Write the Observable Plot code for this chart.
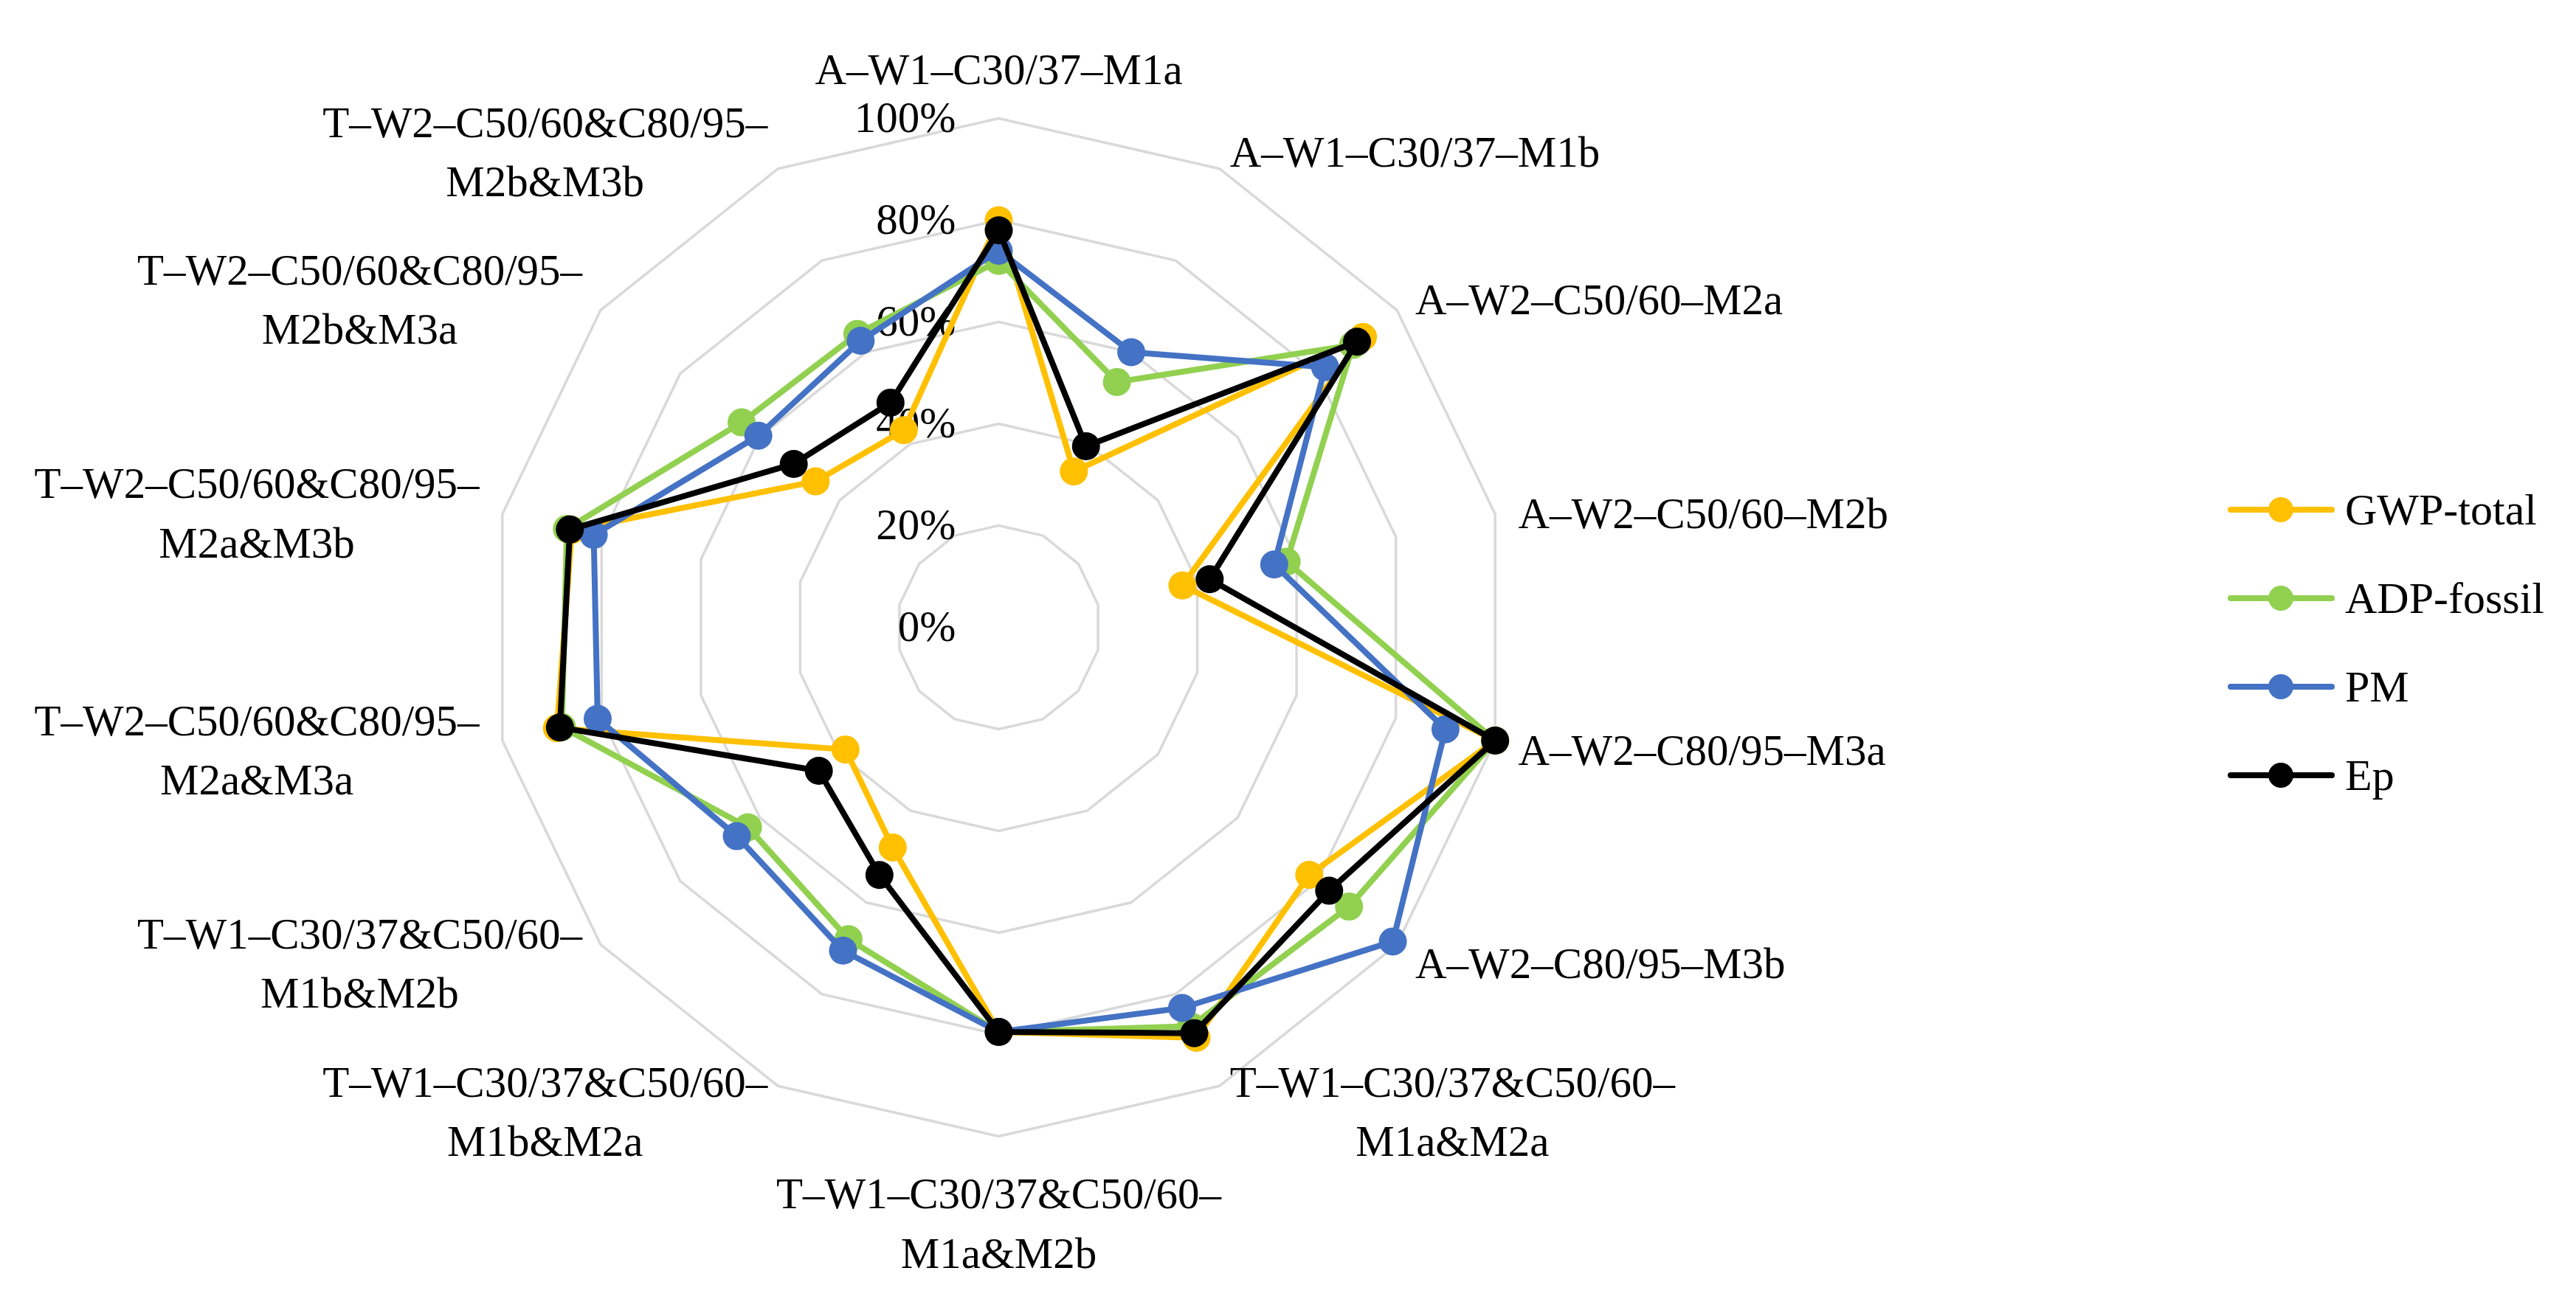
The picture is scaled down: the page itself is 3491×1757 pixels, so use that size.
<!DOCTYPE html>
<html><head><meta charset="utf-8">
<script src="https://cdn.jsdelivr.net/npm/d3@7"></script>
<script src="https://cdn.jsdelivr.net/npm/@observablehq/plot@0.6"></script>
<style>
html,body{margin:0;padding:0;background:#fff;}
#wrap{position:relative;width:3491px;height:1757px;overflow:hidden;background:#fff;}
#legend{position:absolute;left:3019px;top:631px;font-family:'Liberation Serif',serif;font-size:60px;color:#000;}
.row{display:flex;align-items:center;height:120px;white-space:nowrap;}
.row svg{display:block;margin-right:14px;}
</style></head><body><div id="wrap"><div id="chart"></div><div id="legend"></div></div>
<script>
// ---- data ----
const categories = [
  "A–W1–C30/37–M1a",
  "A–W1–C30/37–M1b",
  "A–W2–C50/60–M2a",
  "A–W2–C50/60–M2b",
  "A–W2–C80/95–M3a",
  "A–W2–C80/95–M3b",
  "T–W1–C30/37&C50/60–\nM1a&M2a",
  "T–W1–C30/37&C50/60–\nM1a&M2b",
  "T–W1–C30/37&C50/60–\nM1b&M2a",
  "T–W1–C30/37&C50/60–\nM1b&M2b",
  "T–W2–C50/60&C80/95–\nM2a&M3a",
  "T–W2–C50/60&C80/95–\nM2a&M3b",
  "T–W2–C50/60&C80/95–\nM2b&M3a",
  "T–W2–C50/60&C80/95–\nM2b&M3b"
];
const seriesNames = ["GWP-total", "ADP-fossil", "PM", "Ep"];
const seriesColors = ["#FFC000", "#92D050", "#4472C4", "#000000"];
const gwpTotal  = [0.80, 0.34, 0.915, 0.37, 1.00, 0.78, 0.895, 0.795, 0.48, 0.385, 0.89, 0.86, 0.46, 0.43];
const adpFossil = [0.72, 0.535, 0.89, 0.58, 1.00, 0.88, 0.87, 0.795, 0.68, 0.63, 0.88, 0.87, 0.646, 0.64];
const pm        = [0.74, 0.60, 0.82, 0.555, 0.90, 0.99, 0.83, 0.795, 0.705, 0.658, 0.808, 0.816, 0.604, 0.625];
const ep        = [0.78, 0.395, 0.90, 0.425, 1.00, 0.83, 0.885, 0.795, 0.54, 0.452, 0.884, 0.864, 0.515, 0.49];
const gridLevels = [0, 0.2, 0.4, 0.6, 0.8, 1.0];
const tickLabels = ["0%", "20%", "40%", "60%", "80%", "100%"];

// ---- layout ----
const W = 3491, H = 1757;
const cx = 1353, cy = 850, R = 690;
const fontFamily = "'Liberation Serif', serif";
const fontSize = 59, lineH = 1.36;
const labelRad = 1 + 32 / R;

const N = categories.length;
const angle = i => 2 * Math.PI * i / N;
const pt = (v, i) => ({px: v * Math.sin(angle(i)), py: v * Math.cos(angle(i))});

const gridData = gridLevels.filter(l => l > 0)
  .flatMap(l => categories.map((c, i) => ({level: l, i, ...pt(l, i)})));
const seriesValues = [gwpTotal, adpFossil, pm, ep];
const seriesData = seriesNames.map((name, k) =>
  seriesValues[k].map((v, i) => ({name, i, v, ...pt(v, i)})));

const ctx = document.createElement("canvas").getContext("2d");
ctx.font = `${fontSize}px "Liberation Serif"`;

const labelMarks = categories.map((c, i) => {
  const a = angle(i), s = Math.sin(a), co = Math.cos(a);
  const lines = c.split("\n");
  const w = Math.max(...lines.map(l => ctx.measureText(l).width));
  const side = Math.abs(s) < 0.05 ? 0 : Math.sign(s);
  const vert = Math.abs(s) < 0.05 ? -Math.sign(co) : 0;
  return Plot.text([{c, i}], {
    x: d => labelRad * Math.sin(angle(d.i)),
    y: d => labelRad * Math.cos(angle(d.i)),
    text: "c", textAnchor: "middle", lineAnchor: "middle", lineHeight: lineH,
    dx: side * w / 2, dy: vert * lines.length * lineH * fontSize / 2,
    fontSize, fontFamily, fill: "#000"
  });
});

const seriesMarks = seriesData.flatMap((data, k) => [
  Plot.line(data, {x: "px", y: "py", curve: "linear-closed", stroke: seriesColors[k],
    strokeWidth: 8, strokeLinejoin: "round"}),
  Plot.dot(data, {x: "px", y: "py", r: 19, fill: seriesColors[k]})
]);

const chart = Plot.plot({
  width: W, height: H,
  marginLeft: cx - R, marginRight: W - (cx + R),
  marginTop: cy - R, marginBottom: H - (cy + R),
  x: {domain: [-1, 1], axis: null},
  y: {domain: [-1, 1], axis: null},
  style: {background: "transparent", fontFamily, fontSize: fontSize + "px", overflow: "visible"},
  marks: [
    Plot.line(gridData, {x: "px", y: "py", z: "level", curve: "linear-closed",
      stroke: "#d9d9d9", strokeWidth: 3.5}),
    Plot.text(gridLevels, {x: d => 0, y: d => d, text: (d, i) => tickLabels[i],
      textAnchor: "end", lineAnchor: "middle", dx: -58, fontSize, fontFamily, fill: "#000"}),
    ...seriesMarks,
    ...labelMarks
  ]
});
document.getElementById("chart").appendChild(chart);

// ---- legend ----
const legend = d3.select("#legend");
seriesNames.forEach((name, k) => {
  const row = legend.append("div").attr("class", "row");
  const svg = row.append("svg").attr("width", 145).attr("height", 40);
  svg.append("line").attr("x1", 4).attr("x2", 141).attr("y1", 20).attr("y2", 20)
    .attr("stroke", seriesColors[k]).attr("stroke-width", 8).attr("stroke-linecap", "round");
  svg.append("circle").attr("cx", 72).attr("cy", 20).attr("r", 17).attr("fill", seriesColors[k]);
  row.append("span").text(name);
});
</script>
</body></html>
